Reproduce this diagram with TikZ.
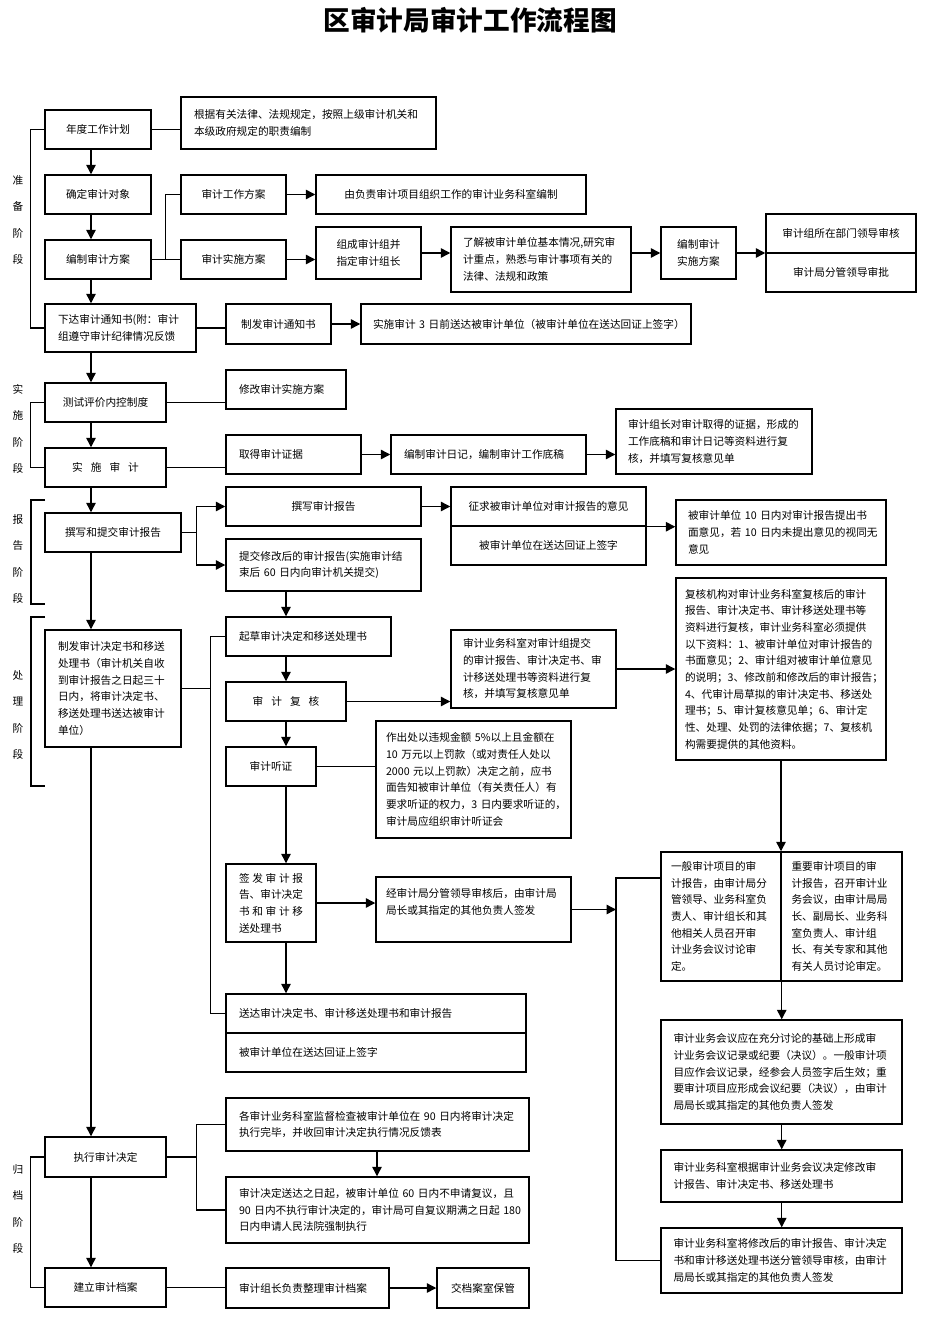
\documentclass[tikz,border=0pt]{standalone}
\usepackage{fontspec}
\setmainfont{Noto Sans CJK SC}
\usetikzlibrary{arrows.meta}

\begin{document}
\begin{tikzpicture}[
    x=0.75pt, y=-0.75pt,
    line width=1pt,
    wh/.code 2 args={\pgfmathsetmacro\boxw{#1*0.75}\pgfmathsetmacro\boxh{#2*0.75}%
      \pgfkeysalso{/tikz/minimum width/.expanded=\boxw pt,/tikz/minimum height/.expanded=\boxh pt}},
    tw/.code={\pgfmathsetmacro\boxt{#1*0.75}\pgfkeysalso{/tikz/text width/.expanded=\boxt pt}},
    box/.style={rectangle,draw,line width=1.1pt,inner sep=0pt,align=center,
                font=\fontsize{8pt}{12.5pt}\selectfont},
    lbox/.style={box,align=left},
    phase/.style={align=center,inner sep=0pt,font=\fontsize{8pt}{19.7pt}\selectfont},
    arr/.style={-{Triangle[length=7pt,width=7pt]}}
  ]
  \useasboundingbox (0,0) rectangle (926,1323);
  \node[font=\bfseries\fontsize{20pt}{24pt}\selectfont] (title) at (470,20) {区审计局审计工作流程图};

  \coordinate (spine) at (91,0);
  \coordinate (col2) at (286,0);
  \coordinate (rbar) at (616,0);

  % stage labels
  \node[phase] (prep) at (18,220) {准\\备\\阶\\段};
  \node[phase] (impl) at (18,429) {实\\施\\阶\\段};
  \node[phase] (rept) at (18,559) {报\\告\\阶\\段};
  \node[phase] (proc) at (18,715) {处\\理\\阶\\段};
  \node[phase] (arch) at (18,1209) {归\\档\\阶\\段};

  % preparation
  \node[box,wh={106}{39}] (plan) at (98,129.5) {年度工作计划};
  \node[lbox,wh={255}{52},tw={229}] (basis) at (308.5,123) {根据有关法律、法规规定，按照上级审计机关和\\本级政府规定的职责编制};
  \node[box,wh={106}{39}] (target) at (98,194.5) {确定审计对象};
  \node[box,wh={106}{39}] (scheme) at (98,259.5) {编制审计方案};
  \node[box,wh={105}{39}] (wplan) at (233.5,194.5) {审计工作方案};
  \node[box,wh={105}{39}] (iplan) at (233.5,259.5) {审计实施方案};
  \node[box,wh={270}{39}] (office) at (451,194.5) {由负责审计项目组织工作的审计业务科室编制};
  \node[box,wh={105}{52}] (team) at (368.5,253) {组成审计组并\\指定审计组长};
  \node[lbox,wh={180}{65},tw={156}] (study) at (541,259.5) {了解被审计单位基本情况,研究审\\计重点，熟悉与审计事项有关的\\法律、法规和政策};
  \node[box,wh={75}{52}] (draft) at (698.5,253) {编制审计\\实施方案};
  \node[box,wh={150}{39}] (appr1) at (841,233.5) {审计组所在部门领导审核};
  \node[box,wh={150}{39}] (appr2) at (841,272.5) {审计局分管领导审批};
  \node[lbox,wh={151}{48},tw={125}] (notice) at (120.5,328) {下达审计通知书(附：审计\\组遵守审计纪律情况反馈};
  \node[box,wh={105}{40}] (issue) at (278.5,324) {制发审计通知书};
  \node[lbox,wh={330}{40},tw={306}] (deliver) at (526,324) {实施审计~3~日前送达被审计单位（被审计单位在送达回证上签字）};

  % implementation
  \node[box,wh={121}{39}] (test) at (105.5,402.5) {测试评价内控制度};
  \node[lbox,wh={120}{39},tw={94}] (revise) at (286,389.5) {修改审计实施方案};
  \node[box,wh={121}{39}] (exec) at (105.5,467.5) {实\hspace{6pt}施\hspace{6pt}审\hspace{6pt}计};
  \node[lbox,wh={135}{39},tw={109}] (evid) at (293.5,454.5) {取得审计证据};
  \node[lbox,wh={195}{39},tw={169}] (diary) at (488.5,454.5) {编制审计日记，编制审计工作底稿};
  \node[lbox,wh={196}{65},tw={172}] (recheck) at (714,441.5) {审计组长对审计取得的证据，形成的\\工作底稿和审计日记等资料进行复\\核，并填写复核意见单};

  % report
  \node[box,wh={136}{39}] (write) at (113,532.5) {撰写和提交审计报告};
  \node[box,wh={195}{39}] (draftrep) at (323.5,506.5) {撰写审计报告};
  \node[lbox,wh={195}{52},tw={169}] (submit) at (323.5,565) {提交修改后的审计报告(实施审计结\\束后~60~日内向审计机关提交)};
  \node[box,wh={195}{39}] (seek1) at (548.5,506.5) {征求被审计单位对审计报告的意见};
  \node[box,wh={195}{39}] (seek2) at (548.5,545.5) {被审计单位在送达回证上签字};
  \node[lbox,wh={210}{65},tw={186}] (reply) at (781,532.5) {被审计单位~10~日内对审计报告提出书\\面意见，若~10~日内未提出意见的视同无\\意见};

  % handling
  \node[lbox,wh={136}{117},tw={110}] (decide) at (113,688.5) {制发审计决定书和移送\\处理书（审计机关自收\\到审计报告之日起三十\\日内，将审计决定书、\\移送处理书送达被审计\\单位）};
  \node[lbox,wh={165}{39},tw={139}] (drafting) at (308.5,636.5) {起草审计决定和移送处理书};
  \node[box,wh={120}{39}] (review) at (286,701.5) {审\hspace{6pt}计\hspace{6pt}复\hspace{6pt}核};
  \node[lbox,wh={165}{78},tw={141}] (deptrev) at (533.5,669) {审计业务科室对审计组提交\\的审计报告、审计决定书、审\\计移送处理书等资料进行复\\核，并填写复核意见单};
  \node[lbox,wh={210}{182},tw={192}] (orgrev) at (781,669) {复核机构对审计业务科室复核后的审计\\报告、审计决定书、审计移送处理书等\\资料进行复核，审计业务科室必须提供\\以下资料：1、被审计单位对审计报告的\\书面意见；2、审计组对被审计单位意见\\的说明；3、修改前和修改后的审计报告；\\4、代审计局草拟的审计决定书、移送处\\理书；5、审计复核意见单；6、审计定\\性、处理、处罚的法律依据；7、复核机\\构需要提供的其他资料。};
  \node[box,wh={90}{39}] (hearing) at (271,766.5) {审计听证};
  \node[lbox,wh={195}{117},tw={175}] (hearnote) at (473.5,779.5) {作出处以违规金额~5\%以上且金额在\\10~万元以上罚款（或对责任人处以\\2000~元以上罚款）决定之前，应书\\面告知被审计单位（有关责任人）有\\要求听证的权力，3~日内要求听证的，\\审计局应组织审计听证会};
  \node[lbox,wh={90}{78},tw={64}] (sign) at (271,903) {签\hspace{2pt}发\hspace{2pt}审\hspace{2pt}计\hspace{2pt}报\\告、审计决定\\书\hspace{2pt}和\hspace{2pt}审\hspace{2pt}计\hspace{2pt}移\\送处理书};
  \node[lbox,wh={195}{65},tw={175}] (signer) at (473.5,909.5) {经审计局分管领导审核后，由审计局\\局长或其指定的其他负责人签发\\\mbox{}};
  \node[lbox,wh={300}{39},tw={274}] (serve1) at (376,1013.5) {送达审计决定书、审计移送处理书和审计报告};
  \node[lbox,wh={300}{39},tw={274}] (serve2) at (376,1052.5) {被审计单位在送达回证上签字};
  \node[lbox,wh={120}{129},tw={100}] (meet1) at (721,916.5) {一般审计项目的审\\计报告，由审计局分\\管领导、业务科室负\\责人、审计组长和其\\他相关人员召开审\\计业务会议讨论审\\定。};
  \node[lbox,wh={121}{129},tw={100}] (meet2) at (841.5,916.5) {重要审计项目的审\\计报告，召开审计业\\务会议，由审计局局\\长、副局长、业务科\\室负责人、审计组\\长、有关专家和其他\\有关人员讨论审定。};
  \node[lbox,wh={241}{104},tw={216}] (record) at (781.5,1072) {审计业务会议应在充分讨论的基础上形成审\\计业务会议记录或纪要（决议）。一般审计项\\目应作会议记录，经参会人员签字后生效；重\\要审计项目应形成会议纪要（决议），由审计\\局局长或其指定的其他负责人签发};
  \node[lbox,wh={241}{52},tw={216}] (modify) at (781.5,1176) {审计业务科室根据审计业务会议决定修改审\\计报告、审计决定书、移送处理书};
  \node[lbox,wh={241}{65},tw={216}] (final) at (781.5,1260.5) {审计业务科室将修改后的审计报告、审计决定\\书和审计移送处理书送分管领导审核，由审计\\局局长或其指定的其他负责人签发};

  % archiving
  \node[box,wh={121}{40}] (enforce) at (105.5,1157) {执行审计决定};
  \node[box,wh={121}{39}] (archive) at (105.5,1287.5) {建立审计档案};
  \node[lbox,wh={303}{53},tw={277}] (monitor) at (377.5,1124.5) {各审计业务科室监督检查被审计单位在~90~日内将审计决定\\执行完毕，并收回审计决定执行情况反馈表};
  \node[lbox,wh={303}{66},tw={277}] (court) at (377.5,1210) {审计决定送达之日起，被审计单位~60~日内不申请复议，且\\90~日内不执行审计决定的，审计局可自复议期满之日起~180\\日内申请人民法院强制执行};
  \node[lbox,wh={163}{40},tw={137}] (leader) at (307.5,1288) {审计组长负责整理审计档案};
  \node[box,wh={92}{40}] (keep) at (483,1288) {交档案室保管};

  % main line
  \draw[arr] (plan.south -| spine) -- (target.north -| spine);
  \draw[arr] (target.south -| spine) -- (scheme.north -| spine);
  \draw[arr] (scheme.south -| spine) -- (notice.north -| spine);
  \draw[arr] (notice.south -| spine) -- (test.north -| spine);
  \draw[arr] (test.south -| spine) -- (exec.north -| spine);
  \draw[arr] (exec.south -| spine) -- (write.north -| spine);
  \draw[arr] (write.south -| spine) -- (decide.north -| spine);
  \draw[arr] (decide.south -| spine) -- (enforce.north -| spine);
  \draw[arr] (enforce.south -| spine) -- (archive.north -| spine);

  % brackets
  \draw (plan.west) -- ++(-14,0) |- (notice.west);
  \draw (test.west) -- ++(-14,0) |- (exec.west);
  \draw (45,500) -- (31,500) -- (31,604) -- (45,604);
  \draw (45,617) -- (31,617) -- (31,786) -- (45,786);
  \draw (enforce.west) -- ++(-14,0) |- (archive.west);

  % preparation links
  \draw (plan.east) -- (plan.east -| basis.west);
  \draw (scheme.east) -- (iplan.west);
  \draw (wplan.west) -- ++(-15,0) |- (iplan.west);
  \draw[arr] (wplan) -- (office);
  \draw[arr] (iplan.east) -- (iplan.east -| team.west);
  \draw[arr] (team.east) -- (team.east -| study.west);
  \draw[arr] (study.east |- draft.west) -- (draft.west);
  \draw[arr] (draft.east) -- (draft.east -| appr1.west);
  \draw (notice.east) -- (notice.east -| issue.west);
  \draw[arr] (issue) -- (deliver);

  % implementation links
  \draw (test.east) -- (test.east -| revise.west);
  \draw (exec.east) -- (exec.east -| evid.west);
  \draw[arr] (evid) -- (diary);
  \draw[arr] (diary.east) -- (diary.east -| recheck.west);

  % report links
  \draw (write.east) -- ++(15,0) coordinate (wfork);
  \draw[arr] (wfork) |- (draftrep.west);
  \draw[arr] (wfork) |- (submit.west);
  \draw[arr] (draftrep) -- (seek1);
  \draw[arr] (seek1.south west) -- (seek1.south west -| reply.west);

  % handling links
  \draw (drafting.west) -- ++(-15,0) coordinate (dfork) |- (serve1.west);
  \draw (decide.east) -- (decide.east -| dfork);
  \draw[arr] (submit.south -| col2) -- (drafting.north -| col2);
  \draw[arr] (drafting.south -| col2) -- (review.north -| col2);
  \draw[arr] (review.east) -- (review.east -| deptrev.west);
  \draw[arr] (deptrev.east) -- (deptrev.east -| orgrev.west);
  \draw[arr] (review.south -| col2) -- (hearing.north -| col2);
  \draw (hearing.east) -- (hearing.east -| hearnote.west);
  \draw[arr] (hearing.south -| col2) -- (sign.north -| col2);
  \draw[arr] (sign.east) -- (sign.east -| signer.west);
  \draw[arr] (sign.south -| col2) -- (serve1.north -| col2);
  \draw[arr] (signer.east) -- (signer.east -| rbar);
  \draw ([yshift=29pt]meet1.west) -- ([yshift=29pt]meet1.west -| rbar) |- (final.west);
  \draw[arr] (orgrev.south) -- (orgrev.south |- meet1.north);
  \draw[arr] (meet1.south east) -- (meet1.south east |- record.north);
  \draw[arr] (record.south -| meet1.south east) -- (modify.north -| meet1.south east);
  \draw[arr] (modify.south -| meet1.south east) -- (final.north -| meet1.south east);

  % archiving links
  \draw (enforce.east) -- ++(30,0) coordinate (efork);
  \draw (efork) |- (monitor.west);
  \draw (efork) |- (court.west);
  \draw[arr] (monitor.south -| 377,0) -- (court.north -| 377,0);
  \draw (archive.east) -- (archive.east -| leader.west);
  \draw[arr] (leader) -- (keep);
\end{tikzpicture}
\end{document}
